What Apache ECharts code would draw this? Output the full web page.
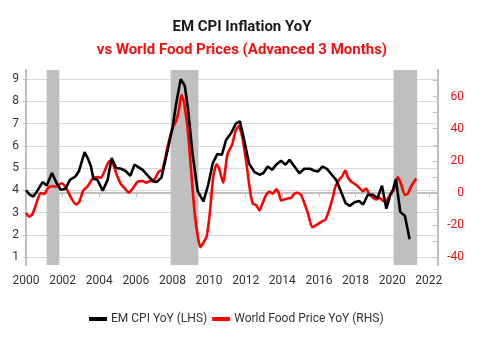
<!DOCTYPE html>
<html>
<head>
<meta charset="utf-8">
<script src="https://cdn.jsdelivr.net/npm/echarts@6/dist/echarts.min.js"></script>
<style>
html,body{margin:0;padding:0;background:#fff;}
#chart{width:486px;height:337px;}
</style>
</head>
<body>
<div id="chart"></div>
<script>
// EM CPI YoY (LHS), decimal year / value
const cpiDates = [2000.0,2000.2,2000.4,2000.6,2000.9,2001.13,2001.42,2001.67,2001.9,2002.15,2002.4,2002.7,2002.9,2003.2,2003.37,2003.55,2003.68,2003.9,2004.19,2004.46,2004.68,2004.92,2005.19,2005.43,2005.7,2005.92,2006.37,2006.7,2006.95,2007.15,2007.4,2007.65,2008.0,2008.2,2008.45,2008.67,2008.85,2009.1,2009.38,2009.69,2009.95,2010.2,2010.45,2010.7,2010.92,2011.22,2011.46,2011.68,2011.93,2012.18,2012.48,2012.75,2012.97,2013.2,2013.44,2013.66,2013.93,2014.17,2014.39,2014.66,2014.93,2015.2,2015.5,2015.75,2015.95,2016.2,2016.45,2016.7,2016.94,2017.2,2017.45,2017.68,2017.94,2018.19,2018.41,2018.67,2018.94,2019.2,2019.44,2019.68,2019.9,2020.04,2020.2,2020.44,2020.69,2020.95];
const cpiValues = [4.0,3.8,3.72,3.95,4.37,4.22,4.78,4.33,4.02,4.07,4.47,4.62,4.88,5.72,5.45,5.07,4.52,4.47,3.98,4.47,5.45,5.0,4.97,4.88,4.65,5.15,4.92,4.62,4.4,4.38,4.58,5.5,6.8,7.9,9.0,8.7,7.65,5.6,3.95,3.5,4.25,5.22,5.63,5.6,6.25,6.6,7.0,7.1,6.2,5.2,4.82,4.7,4.78,5.07,4.92,5.15,5.33,5.15,5.37,5.07,4.77,4.97,4.97,4.88,4.85,5.07,4.95,4.7,4.47,3.95,3.43,3.3,3.46,3.52,3.36,3.8,3.8,3.65,4.21,3.17,3.8,4.02,4.5,3.03,2.85,1.8];

// World Food Price YoY (RHS), advanced 3 months
const foodDates = [2000.0,2000.18,2000.36,2000.55,2000.8,2001.0,2001.2,2001.4,2001.64,2001.95,2002.2,2002.46,2002.73,2002.91,2003.13,2003.37,2003.6,2003.86,2004.1,2004.33,2004.55,2004.73,2004.95,2005.19,2005.42,2005.62,2005.83,2006.1,2006.37,2006.56,2006.78,2007.01,2007.25,2007.46,2007.74,2007.98,2008.2,2008.34,2008.49,2008.62,2008.84,2009.02,2009.2,2009.38,2009.53,2009.69,2009.87,2010.05,2010.23,2010.41,2010.56,2010.76,2011.0,2011.26,2011.44,2011.62,2011.8,2012.02,2012.24,2012.39,2012.57,2012.75,2012.93,2013.11,2013.3,2013.48,2013.66,2013.8,2013.93,2014.11,2014.3,2014.48,2014.66,2014.84,2015.03,2015.21,2015.39,2015.63,2015.85,2016.12,2016.36,2016.57,2016.75,2016.9,2017.12,2017.27,2017.44,2017.58,2017.77,2017.94,2018.17,2018.39,2018.58,2018.73,2018.95,2019.13,2019.31,2019.52,2019.7,2019.89,2020.07,2020.31,2020.49,2020.69,2020.85,2021.04,2021.31];
const foodValues = [-12.5,-14.8,-13,-7,0,-0.6,3,4.2,4.0,6,3,-3,-7.2,-5.5,1.6,4.2,8.4,9.9,9.5,14.7,19.8,18.8,11.5,5.3,2.5,0.1,2.8,7.0,7.4,6.4,7.4,8.4,13.2,14.7,29.2,39.6,44.8,51,61,57,38.5,13.6,-11.3,-27,-33.8,-31,-27,-11.3,10.5,17.8,14.7,6.4,24,30.2,38.5,41.6,35.4,19.8,1.1,-6.7,-7.6,-10.9,-6.1,-1.4,0.7,-0.5,2.2,0.1,-4.7,-4.0,-3.4,-3.0,-0.5,0.1,-1.4,-6.7,-12.3,-21.3,-20.1,-18,-16.5,-10,-3,4.2,8.4,10.5,14,9.5,7,5.7,3.6,1.1,2.8,-0.5,-3,-4,-3,-5.1,-4.7,-0.9,1.6,9.9,5.3,-1.2,-0.5,4.2,9.0];

// Shaded periods (start, end)
const shadeStarts = [2001.13, 2007.9, 2020.07];
const shadeEnds = [2001.82, 2009.42, 2021.36];

const leftTicks = [1,2,3,4,5,6,7,8,9];
const rightLabels = [-40,-20,0,20,40,60];
const rightTicks = [-40,-30,-20,-10,0,10,20,30,40,50,60,70];

const titleText = 'EM CPI Inflation YoY';
const subtitleText = 'vs World Food Prices (Advanced 3 Months)';
const cpiName = 'EM CPI YoY (LHS)';
const foodName = 'World Food Price YoY (RHS)';

const cpiData = cpiDates.map((d, i) => [d, cpiValues[i]]);
const foodData = foodDates.map((d, i) => [d, foodValues[i]]);
const shadeData = shadeStarts.map((s, i) => [{xAxis: s}, {xAxis: shadeEnds[i]}]);

const FONT = 'Roboto';
const chart = echarts.init(document.getElementById('chart'), null, {renderer: 'canvas'});
chart.setOption({
  animation: false,
  backgroundColor: '#fff',
  title: [
    {text: titleText, left: 237, textAlign: 'center', top: 15,
     textStyle: {fontFamily: FONT, fontSize: 15, fontWeight: 'bold', color: '#1a1a1a'}},
    {text: subtitleText, left: 237, textAlign: 'center', top: 38,
     textStyle: {fontFamily: FONT, fontSize: 15, fontWeight: 'bold', color: '#f01010'}}
  ],
  legend: {
    left: 84, top: 308,
    itemWidth: 18, itemHeight: 4, itemGap: 5,
    icon: 'rect',
    textStyle: {fontFamily: FONT, fontSize: 12, color: '#333', padding: [0,0,0,-1]},
    data: [cpiName, foodName]
  },
  grid: {left: 26, right: 48, top: 70, bottom: 72},
  xAxis: {
    type: 'value', min: 2000, max: 2022.5, interval: 2,
    axisLine: {lineStyle: {color: '#bfbfbf', width: 2}},
    axisTick: {show: true, length: 4, lineStyle: {color: '#bfbfbf', width: 1}},
    axisLabel: {fontFamily: FONT, fontSize: 12, color: '#333', margin: 10, showMaxLabel: false,
      formatter: v => String(v)},
    splitLine: {show: false}
  },
  yAxis: [
    {
      type: 'value', min: 0.64, max: 9.41, position: 'left',
      axisLine: {show: true, lineStyle: {color: '#bfbfbf', width: 2}},
      axisTick: {show: true, length: 3, customValues: leftTicks, lineStyle: {color: '#bfbfbf'}},
      axisLabel: {fontFamily: FONT, fontSize: 12, color: '#333', margin: 7, customValues: leftTicks},
      splitLine: {show: true, lineStyle: {color: '#d9d9d9', width: 1}}
    },
    {
      type: 'value', min: -44.9, max: 76.6, position: 'right',
      axisLine: {show: true, lineStyle: {color: '#bfbfbf', width: 2}},
      axisTick: {show: true, inside: true, length: 5, customValues: rightTicks, lineStyle: {color: '#bfbfbf'}},
      axisLabel: {fontFamily: FONT, fontSize: 12, color: '#e8141a', margin: 26, align: 'right', customValues: rightLabels},
      splitLine: {show: false}
    }
  ],
  series: [
    {
      name: cpiName, type: 'line', yAxisIndex: 0, data: cpiData, z: 4,
      showSymbol: false, symbol: 'none',
      lineStyle: {color: '#000', width: 2.6}, itemStyle: {color: '#000'}
    },
    {
      name: foodName, type: 'line', yAxisIndex: 1, data: foodData, z: 3,
      showSymbol: false, symbol: 'none', smooth: 0.2,
      lineStyle: {color: '#ff0000', width: 2.6}, itemStyle: {color: '#ff0000'},
      markArea: {silent: true, itemStyle: {color: '#bfbfbf'}, data: shadeData}
    }
  ]
});
</script>
</body>
</html>
